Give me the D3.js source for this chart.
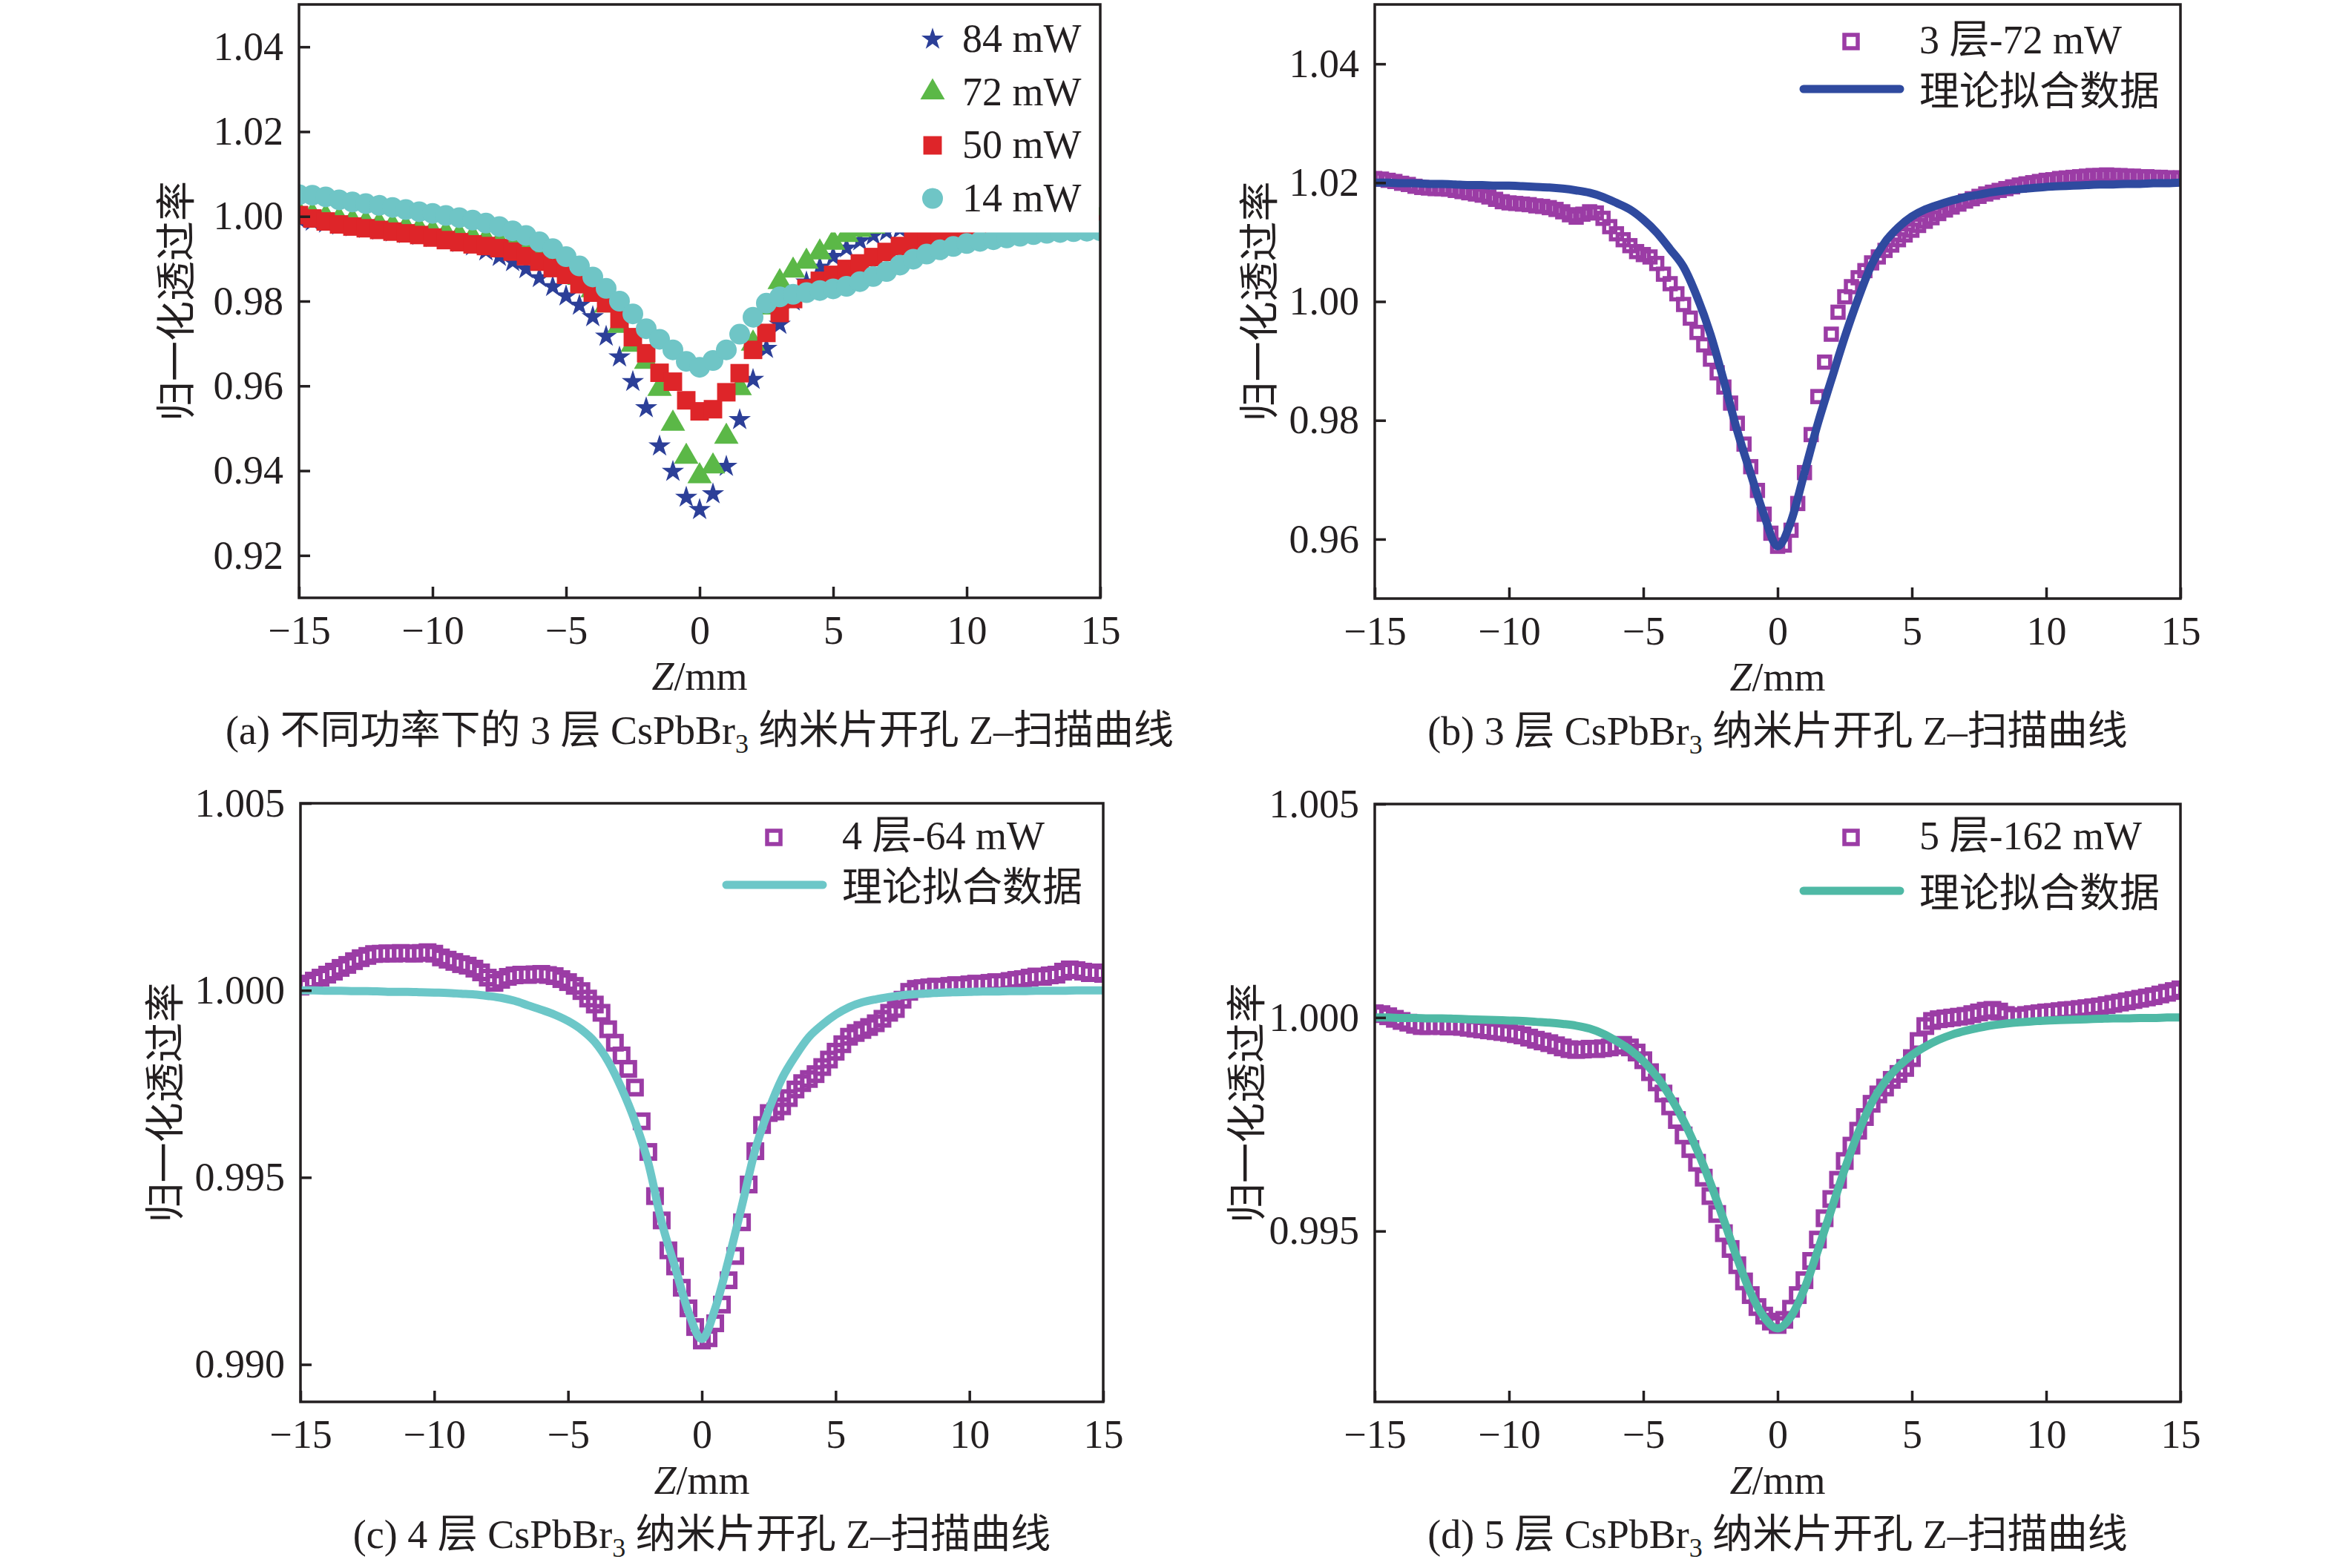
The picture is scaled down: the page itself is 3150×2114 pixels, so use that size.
<!DOCTYPE html>
<html><head><meta charset="utf-8">
<script src="https://cdn.jsdelivr.net/npm/d3@7"></script>
<style>html,body{margin:0;padding:0;background:#fff}</style>
</head><body>
<svg id="chart" width="3150" height="2114"></svg>
<script>
// ---------- data ----------
const xDomain = [-15, 15];
const xTicks = [-15, -10, -5, 0, 5, 10, 15];
const zGrid = [-15,-14.5,-14,-13.5,-13,-12.5,-12,-11.5,-11,-10.5,-10,-9.5,-9,-8.5,-8,-7.5,-7,-6.5,-6,-5.5,-5,-4.5,-4,-3.5,-3,-2.5,-2,-1.5,-1,-0.5,0,0.5,1,1.5,2,2.5,3,3.5,4,4.5,5,5.5,6,6.5,7,7.5,8,8.5,9,9.5,10,10.5,11,11.5,12,12.5,13,13.5,14,14.5,15];
const zFine = [-15,-14.75,-14.5,-14.25,-14,-13.75,-13.5,-13.25,-13,-12.75,-12.5,-12.25,-12,-11.75,-11.5,-11.25,-11,-10.75,-10.5,-10.25,-10,-9.75,-9.5,-9.25,-9,-8.75,-8.5,-8.25,-8,-7.75,-7.5,-7.25,-7,-6.75,-6.5,-6.25,-6,-5.75,-5.5,-5.25,-5,-4.75,-4.5,-4.25,-4,-3.75,-3.5,-3.25,-3,-2.75,-2.5,-2.25,-2,-1.75,-1.5,-1.25,-1,-0.75,-0.5,-0.25,0,0.25,0.5,0.75,1,1.25,1.5,1.75,2,2.25,2.5,2.75,3,3.25,3.5,3.75,4,4.25,4.5,4.75,5,5.25,5.5,5.75,6,6.25,6.5,6.75,7,7.25,7.5,7.75,8,8.25,8.5,8.75,9,9.25,9.5,9.75,10,10.25,10.5,10.75,11,11.25,11.5,11.75,12,12.25,12.5,12.75,13,13.25,13.5,13.75,14,14.25,14.5,14.75,15];

// panel (a): 3 layers, different powers
const seriesNamesA = ["84 mW", "72 mW", "50 mW", "14 mW"];
const p84 = [.9993,.9988,.9984,.9979,.9975,.9971,.9967,.9963,.9959,.9955,
  .9950,.9945,.9938,.9930,.9918,.9905,.9893,.9876,.9855,.9834,
  .9812,.9790,.9763,.9717,.9668,.9610,.9548,.9458,.9398,.9337,
  .9308,
  .9345,.9410,.9520,.9615,.9688,.9745,.9800,.9845,.9880,.9905,
  .9925,.9942,.9955,.9964,.9970,.9974,.9977,.9979,.9981,.9982,
  .9983,.9984,.9985,.9985,.9986,.9986,.9987,.9987,.9988,.9988];
const p72 = [1.0008,1.0003,.9998,.9993,.9989,.9985,.9981,.9977,.9973,.9969,
  .9965,.9960,.9955,.9950,.9945,.9939,.9932,.9922,.9910,.9895,
  .9877,.9855,.9826,.9790,.9742,.9697,.9657,.9593,.9511,.9433,
  .9387,
  .9410,.9480,.9595,.9700,.9785,.9845,.9872,.9893,.9915,.9938,
  .9956,.9968,.9976,.9981,.9984,.9986,.9988,.9989,.9990,.9990,
  .9991,.9991,.9991,.9992,.9992,.9992,.9992,.9993,.9993,.9993];
const p50 = [1.0003,.9995,.9988,.9981,.9976,.9972,.9968,.9964,.9960,.9956,
  .9950,.9944,.9939,.9934,.9930,.9925,.9917,.9906,.9893,.9878,
  .9862,.9840,.9820,.9795,.9758,.9715,.9677,.9631,.9610,.9566,
  .9540,
  .9545,.9585,.9630,.9685,.9725,.9772,.9805,.9830,.9848,.9862,
  .9876,.9889,.9904,.9916,.9930,.9941,.9951,.9960,.9966,.9970,
  .9972,.9974,.9975,.9976,.9977,.9978,.9979,.9980,.9980,.9981];
const p14 = [1.0051,1.0050,1.0046,1.0039,1.0034,1.0030,1.0026,1.0021,1.0016,1.0011,
  1.0007,1.0002,.9997,.9991,.9984,.9976,.9966,.9955,.9940,.9924,
  .9905,.9883,.9857,.9830,.9800,.9770,.9735,.9710,.9685,.9658,
  .9644,
  .9660,.9685,.9722,.9762,.9795,.9810,.9816,.9820,.9825,.9829,
  .9835,.9846,.9858,.9870,.9885,.9899,.9911,.9921,.9929,.9936,
  .9941,.9945,.9949,.9953,.9957,.9960,.9962,.9964,.9965,.9966];

// panel (b): 3 layers, 72 mW
const bData = [1.0207,1.0206,1.0204,1.0202,1.0199,1.0197,1.0194,1.0192,1.0191,1.0190,
  1.0190,1.0189,1.0187,1.0185,1.0183,1.0181,1.0179,1.0176,1.0172,1.0168,
  1.0166,1.0165,1.0164,1.0163,1.0161,1.0160,1.0158,1.0155,1.0151,1.0146,
  1.0142,1.0147,1.0151,1.0149,1.0140,1.0126,1.0114,1.0104,1.0094,1.0084,
  1.0079,1.0075,1.0064,1.0046,1.0030,1.0013,.9995,.9972,.9948,.9927,
  .9903,.9880,.9856,.9829,.9795,.9760,.9722,.9682,.9642,.9610,
  .9588,
  .9590,.9615,.9660,.9712,.9776,.9840,.9898,.9945,.9982,1.0008,
  1.0025,1.0040,1.0052,1.0065,1.0075,1.0086,1.0095,1.0104,1.0112,1.0120,
  1.0128,1.0135,1.0141,1.0148,1.0154,1.0159,1.0164,1.0169,1.0173,1.0177,
  1.0181,1.0184,1.0187,1.0190,1.0193,1.0196,1.0198,1.0200,1.0202,1.0204,
  1.0205,1.0207,1.0208,1.0209,1.0210,1.0211,1.0212,1.0212,1.0213,1.0212,
  1.0212,1.0211,1.0211,1.0210,1.0210,1.0209,1.0209,1.0208,1.0208,1.0208];
const bFit = [1.0200,1.0200,1.0199,1.0199,1.0198,1.0198,1.0197,1.0196,1.0196,1.0195,
  1.0195,1.0194,1.0193,1.0192,1.0190,1.0187,1.0183,1.0176,1.0166,1.0155,
  1.0138,1.0116,1.0088,1.0058,1.0008,.9945,.9866,.9782,.9710,.9640,
  .9588,
  .9630,.9712,.9795,.9868,.9940,1.0005,1.0062,1.0100,1.0125,1.0143,
  1.0155,1.0163,1.0170,1.0176,1.0180,1.0184,1.0187,1.0189,1.0191,1.0193,
  1.0194,1.0195,1.0196,1.0197,1.0197,1.0198,1.0198,1.0199,1.0199,1.0200];

// panel (c): 4 layers, 64 mW
const cData = [1.00010,1.00018,1.00026,1.00034,1.00042,1.00050,1.00060,1.00068,1.00078,1.00086,
  1.00092,1.00097,1.00098,1.00099,1.00098,1.00100,1.00099,1.00098,1.00100,1.00102,
  1.00098,1.00088,1.00082,1.00076,1.00070,1.00066,1.00058,1.00048,1.00034,1.00020,
  1.00028,1.00036,1.00040,1.00042,1.00041,1.00043,1.00044,1.00041,1.00038,1.00030,
  1.00022,1.00012,0.99998,0.99978,0.99962,0.99940,0.99896,0.99860,0.99826,0.99790,
  0.99740,0.99650,0.99568,0.99450,0.99385,0.99305,0.99262,0.99205,0.99150,0.99100,
  0.99064,
  0.99070,0.99110,0.99160,0.99225,0.99290,0.99380,0.99481,0.99570,0.99640,0.99672,
  0.99676,0.99690,0.99712,0.99735,0.99752,0.99763,0.99776,0.99795,0.99815,0.99836,
  0.99856,0.99876,0.99886,0.99894,0.99902,0.99912,0.99924,0.99940,0.99950,0.99975,
  0.99996,1.00004,1.00006,1.00008,1.00010,1.00008,1.00012,1.00014,1.00012,1.00016,
  1.00018,1.00016,1.00020,1.00022,1.00020,1.00025,1.00028,1.00030,1.00034,1.00037,
  1.00036,1.00040,1.00042,1.00050,1.00056,1.00054,1.00050,1.00046,1.00048,1.00044];
const cFit = [1.00000,1.00000,0.99999,0.99999,0.99998,0.99998,0.99997,0.99996,0.99996,0.99995,
  0.99994,0.99993,0.99991,0.99989,0.99985,0.99980,0.99972,0.99960,0.99948,0.99935,
  0.99918,0.99895,0.99862,0.99810,0.99738,0.99650,0.99538,0.99380,0.99260,0.99140,
  0.99068,
  0.99150,0.99280,0.99425,0.99575,0.99680,0.99765,0.99825,0.99875,0.99908,0.99935,
  0.99955,0.99968,0.99976,0.99982,0.99987,0.99990,0.99992,0.99994,0.99995,0.99996,
  0.99997,0.99997,0.99998,0.99998,0.99999,0.99999,0.99999,1.00000,1.00000,1.00000];

// panel (d): 5 layers, 162 mW
const dData = [1.00010,1.00008,1.00003,0.99997,0.99992,0.99988,0.99983,0.99980,0.99980,0.99981,
  0.99980,0.99979,0.99980,0.99978,0.99976,0.99974,0.99972,0.99970,0.99968,0.99966,
  0.99964,0.99961,0.99958,0.99953,0.99948,0.99944,0.99940,0.99935,0.99930,0.99926,
  0.99924,0.99925,0.99927,0.99926,0.99928,0.99930,0.99934,0.99936,0.99930,0.99918,
  0.99900,0.99872,0.99848,0.99822,0.99792,0.99760,0.99724,0.99692,0.99660,0.99625,
  0.99582,0.99540,0.99495,0.99458,0.99420,0.99382,0.99350,0.99322,0.99302,0.99288,
  0.99280,
  0.99292,0.99318,0.99350,0.99385,0.99430,0.99480,0.99530,0.99575,0.99620,0.99664,
  0.99700,0.99735,0.99767,0.99798,0.99820,0.99836,0.99854,0.99868,0.99882,0.99905,
  0.99945,0.99980,0.99992,0.99996,0.99998,1.00000,1.00002,1.00004,1.00008,1.00012,
  1.00016,1.00018,1.00014,1.00006,1.00002,1.00003,1.00006,1.00008,1.00010,1.00012,
  1.00013,1.00015,1.00017,1.00018,1.00020,1.00022,1.00024,1.00026,1.00029,1.00032,
  1.00035,1.00038,1.00041,1.00044,1.00047,1.00050,1.00054,1.00058,1.00062,1.00066];
const dFit = [1.00000,1.00000,0.99999,0.99999,0.99998,0.99998,0.99997,0.99996,0.99995,0.99994,
  0.99993,0.99992,0.99990,0.99988,0.99985,0.99981,0.99974,0.99962,0.99945,0.99925,
  0.99898,0.99862,0.99815,0.99758,0.99690,0.99612,0.99525,0.99435,0.99355,0.99298,
  0.99272,
  0.99300,0.99365,0.99455,0.99550,0.99645,0.99730,0.99800,0.99850,0.99885,0.99912,
  0.99932,0.99948,0.99960,0.99969,0.99976,0.99982,0.99986,0.99989,0.99991,0.99993,
  0.99994,0.99995,0.99996,0.99997,0.99998,0.99998,0.99999,0.99999,1.00000,1.00000];

const yTicksA = [0.92, 0.94, 0.96, 0.98, 1.00, 1.02, 1.04];
const yTicksB = [0.96, 0.98, 1.00, 1.02, 1.04];
const yTicksC = [0.990, 0.995, 1.000, 1.005];
const yTicksD = [0.995, 1.000, 1.005];
const yTitle = "归一化透过率";
const fitLabel = "理论拟合数据";

// ---------- drawing ----------
const svg = d3.select("#chart");
svg.append("rect").attr("width", 3150).attr("height", 2114).attr("fill", "#fff");
const defs = svg.append("defs");
const LATIN = "'Liberation Serif','Times New Roman',Times,'Noto Sans CJK SC',serif";
const CJK = "'Noto Sans CJK SC','Liberation Serif',sans-serif";
const FS = 54;
const INK = "#231f20";
const C = {star: "#2c3f98", tri: "#5bb847", sq: "#de2529", circ: "#6fc5c6",
           purple: "#9b3ca5", fitB: "#2f4a9f", fitC: "#6cc7c8", fitD: "#4fb9a5"};

function makePanel(p) {
  const x = d3.scaleLinear().domain(xDomain).range([p.x0, p.x1]);
  const y = d3.scaleLinear().domain(p.yDomain).range([p.y1, p.y0]);
  const g = svg.append("g");
  const cid = "clip-" + p.id;
  defs.append("clipPath").attr("id", cid).append("rect")
    .attr("x", p.x0).attr("y", p.y0).attr("width", p.x1 - p.x0).attr("height", p.y1 - p.y0);
  const plot = g.append("g").attr("clip-path", `url(#${cid})`);
  const over = g.append("g");
  const xa = g.append("g").attr("transform", `translate(0,${p.y1})`)
    .call(d3.axisBottom(x).tickValues(xTicks).tickSizeInner(-15).tickSizeOuter(0).tickPadding(24)
      .tickFormat(d => d < 0 ? "\u2212" + Math.abs(d) : String(d)));
  const ya = g.append("g").attr("transform", `translate(${p.x0},0)`)
    .call(d3.axisLeft(y).tickValues(p.yTicks).tickSizeInner(-15).tickSizeOuter(0).tickPadding(21)
      .tickFormat(d3.format(p.fmt)));
  [xa, ya].forEach(a => {
    a.select(".domain").remove();
    a.attr("font-family", LATIN).attr("font-size", FS);
    a.selectAll(".tick line").attr("stroke", INK).attr("stroke-width", 3.5);
    a.selectAll(".tick text").attr("fill", INK);
  });
  g.append("rect").attr("x", p.x0).attr("y", p.y0).attr("width", p.x1 - p.x0).attr("height", p.y1 - p.y0)
    .attr("fill", "none").attr("stroke", INK).attr("stroke-width", 3.5);
  // axis titles
  const cx = (p.x0 + p.x1) / 2;
  const xt = g.append("text").attr("x", cx).attr("y", p.y1 + 124).attr("text-anchor", "middle")
    .attr("font-family", LATIN).attr("font-size", FS).attr("fill", INK);
  xt.append("tspan").attr("font-style", "italic").text("Z");
  xt.append("tspan").text("/mm");
  g.append("text").attr("transform", `translate(${p.x0 - p.titleOff},${(p.y0 + p.y1) / 2}) rotate(-90)`)
    .attr("text-anchor", "middle").attr("dominant-baseline", "central")
    .attr("font-family", CJK).attr("font-size", FS).attr("fill", INK).text(yTitle);
  // caption
  const cap = g.append("text").attr("x", cx).attr("y", p.y1 + 197).attr("text-anchor", "middle")
    .attr("font-family", LATIN).attr("font-size", FS).attr("fill", INK);
  cap.append("tspan").text(p.cap1);
  cap.append("tspan").attr("font-size", 36).attr("dy", 12).text("3");
  cap.append("tspan").attr("dy", -12).text(p.cap2);
  return {x, y, plot, over, p};
}

// ---- panel (a)
const A = makePanel({id: "a", x0: 403, x1: 1483, y0: 6, y1: 806, yDomain: [0.91, 1.05],
  yTicks: yTicksA, fmt: ".2f", titleOff: 170,
  cap1: "(a) 不同功率下的 3 层 CsPbBr", cap2: " 纳米片开孔 Z–扫描曲线"});
const symA = [
  {vals: p84, type: d3.symbolStar, size: 280, color: C.star},
  {vals: p72, type: d3.symbolTriangle, size: 470, color: C.tri},
  {vals: p50, type: d3.symbolSquare, size: 620, color: C.sq},
  {vals: p14, type: d3.symbolCircle, size: 616, color: C.circ}
];
symA.forEach(s => {
  const gen = d3.symbol().type(s.type).size(s.size);
  A.plot.append("g").selectAll("path").data(zGrid.map((z, i) => [z, s.vals[i]])).join("path")
    .attr("d", gen).attr("fill", s.color)
    .attr("transform", d => `translate(${A.x(d[0])},${A.y(d[1])})`);
});
// legend (white background box covering the data beneath)
A.over.append("rect").attr("x", A.x(4.4)).attr("y", A.p.y0 + 2)
  .attr("width", A.p.x1 - 2 - A.x(4.4)).attr("height", A.y(0.9962) - A.p.y0 - 2).attr("fill", "#fff");
symA.forEach((s, i) => {
  const ly = A.p.y0 + 47 + i * 71.5;
  A.over.append("path").attr("d", d3.symbol().type(s.type).size(s.size)())
    .attr("fill", s.color).attr("transform", `translate(${A.p.x1 - 226},${ly})`);
  A.over.append("text").attr("x", A.p.x1 - 186).attr("y", ly + 17)
    .attr("font-family", LATIN).attr("font-size", FS).attr("fill", INK).text(seriesNamesA[i]);
});

// ---- panels (b), (c), (d)
function fitPanel(P, data, fit, fitColor, label, sqDy, lineDy, sq, sw) {
  P.plot.append("g").selectAll("rect").data(zFine.map((z, i) => [z, data[i]])).join("rect")
    .attr("x", d => P.x(d[0]) - sq / 2).attr("y", d => P.y(d[1]) - sq / 2)
    .attr("width", sq).attr("height", sq)
    .attr("fill", "none").attr("stroke", C.purple).attr("stroke-width", sw);
  const line = d3.line().x((d, i) => P.x(zGrid[i])).y(d => P.y(d)).curve(d3.curveMonotoneX);
  P.plot.append("path").attr("d", line(fit)).attr("fill", "none")
    .attr("stroke", fitColor).attr("stroke-width", 11).attr("stroke-linejoin", "round");
  const r = P.p.x1, t = P.p.y0;
  P.over.append("rect").attr("x", r - 444 - 9).attr("y", t + sqDy - 9).attr("width", 18).attr("height", 18)
    .attr("fill", "none").attr("stroke", C.purple).attr("stroke-width", 5.5);
  P.over.append("text").attr("x", r - 352).attr("y", t + sqDy + 16)
    .attr("font-family", LATIN).attr("font-size", FS).attr("fill", INK).text(label);
  P.over.append("line").attr("x1", r - 508).attr("x2", r - 378).attr("y1", t + lineDy).attr("y2", t + lineDy)
    .attr("stroke", fitColor).attr("stroke-width", 11).attr("stroke-linecap", "round");
  P.over.append("text").attr("x", r - 352).attr("y", t + lineDy + 22)
    .attr("font-family", CJK).attr("font-size", FS).attr("fill", INK).text(fitLabel);
}

const B = makePanel({id: "b", x0: 1853, x1: 2939, y0: 6, y1: 807, yDomain: [0.95, 1.05],
  yTicks: yTicksB, fmt: ".2f", titleOff: 160,
  cap1: "(b) 3 层 CsPbBr", cap2: " 纳米片开孔 Z–扫描曲线"});
fitPanel(B, bData, bFit, C.fitB, "3 层-72 mW", 50, 114, 15, 5.5);

const Cp = makePanel({id: "c", x0: 405, x1: 1487, y0: 1083, y1: 1890, yDomain: [0.989, 1.005],
  yTicks: yTicksC, fmt: ".3f", titleOff: 187,
  cap1: "(c) 4 层 CsPbBr", cap2: " 纳米片开孔 Z–扫描曲线"});
fitPanel(Cp, cData, cFit, C.fitC, "4 层-64 mW", 46, 110, 18, 6);

const D = makePanel({id: "d", x0: 1853, x1: 2939, y0: 1084, y1: 1890, yDomain: [0.991, 1.005],
  yTicks: yTicksD, fmt: ".3f", titleOff: 177,
  cap1: "(d) 5 层 CsPbBr", cap2: " 纳米片开孔 Z–扫描曲线"});
fitPanel(D, dData, dFit, C.fitD, "5 层-162 mW", 45, 117, 18, 6);
</script>
</body></html>
